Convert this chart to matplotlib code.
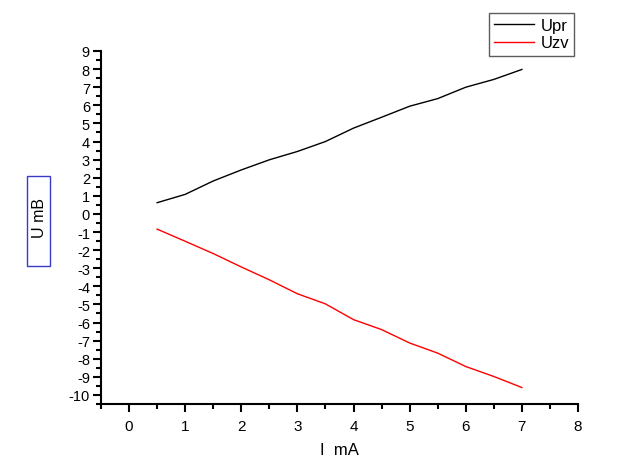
import numpy as np
import matplotlib
matplotlib.use("Agg")
import matplotlib.pyplot as plt
from matplotlib.patches import Rectangle
from matplotlib.ticker import MultipleLocator

plt.rcParams['font.family'] = ['Liberation Sans', 'DejaVu Sans']
plt.rcParams['axes.unicode_minus'] = False

# Ток, мА
current = [0.5, 1, 1.5, 2, 2.5, 3, 3.5, 4, 4.5, 5, 5.5, 6, 6.5, 7]
# прямое и обратное напряжение
u_pr = [0.62, 1.08, 1.82, 2.43, 2.99, 3.45, 4.0, 4.74, 5.34, 5.95, 6.37, 7.0, 7.43, 7.98]
u_zv = [-0.84, -1.51, -2.19, -2.93, -3.64, -4.41, -4.97, -5.84, -6.39, -7.13, -7.69, -8.43, -8.98, -9.59]

x_ticks = [0, 1, 2, 3, 4, 5, 6, 7, 8]
y_ticks = list(range(-10, 10))

W, H = 642, 464
fig = plt.figure(figsize=(W / 100, H / 100), dpi=100)
ax = fig.add_axes([101 / W, 1 - 405 / H, 477 / W, 353 / H])

ax.plot(current, u_pr, color='black', lw=1.0, label='Upr')
ax.plot(current, u_zv, color='#ff0000', lw=1.0, label='Uzv')

ax.set_xlim(-0.5, 8)
ax.set_ylim(-10.5, 9)
ax.set_xticks(x_ticks)
ax.set_yticks(y_ticks)
ax.xaxis.set_minor_locator(MultipleLocator(0.5))
ax.yaxis.set_minor_locator(MultipleLocator(0.5))

for s in ['top', 'right']:
    ax.spines[s].set_visible(False)
for s in ['left', 'bottom']:
    ax.spines[s].set_linewidth(1.5)

ax.tick_params(which='major', direction='out', length=6, width=1.5)
ax.tick_params(which='minor', direction='out', length=3.5, width=1.5)
ax.tick_params(axis='x', which='major', labelsize=11, pad=5)
ax.tick_params(axis='y', which='major', labelsize=10.5, pad=2)

fig.text(339 / W, 1 - 451 / H, 'I  mA', fontsize=12, ha='center', va='center')

# подпись оси Y в синей рамке
fig.patches.append(Rectangle((27 / W, 1 - 267 / H), 23 / W, 90 / H,
                             transform=fig.transFigure, fill=False,
                             edgecolor='#3a3ac8', lw=1.0))
fig.text(39 / W, 1 - 218 / H, 'U mB', rotation=90, fontsize=11.5,
         ha='center', va='center')

leg = ax.legend(loc='upper right', bbox_to_anchor=(574 / W, 1 - 14 / H),
                bbox_transform=fig.transFigure, fontsize=12,
                frameon=True, fancybox=False, edgecolor='#333333',
                handlelength=2.4, borderpad=0.3, labelspacing=0.15,
                handletextpad=0.4, borderaxespad=0)
leg.get_frame().set_linewidth(1.0)

fig.savefig('out.png', dpi=100)
